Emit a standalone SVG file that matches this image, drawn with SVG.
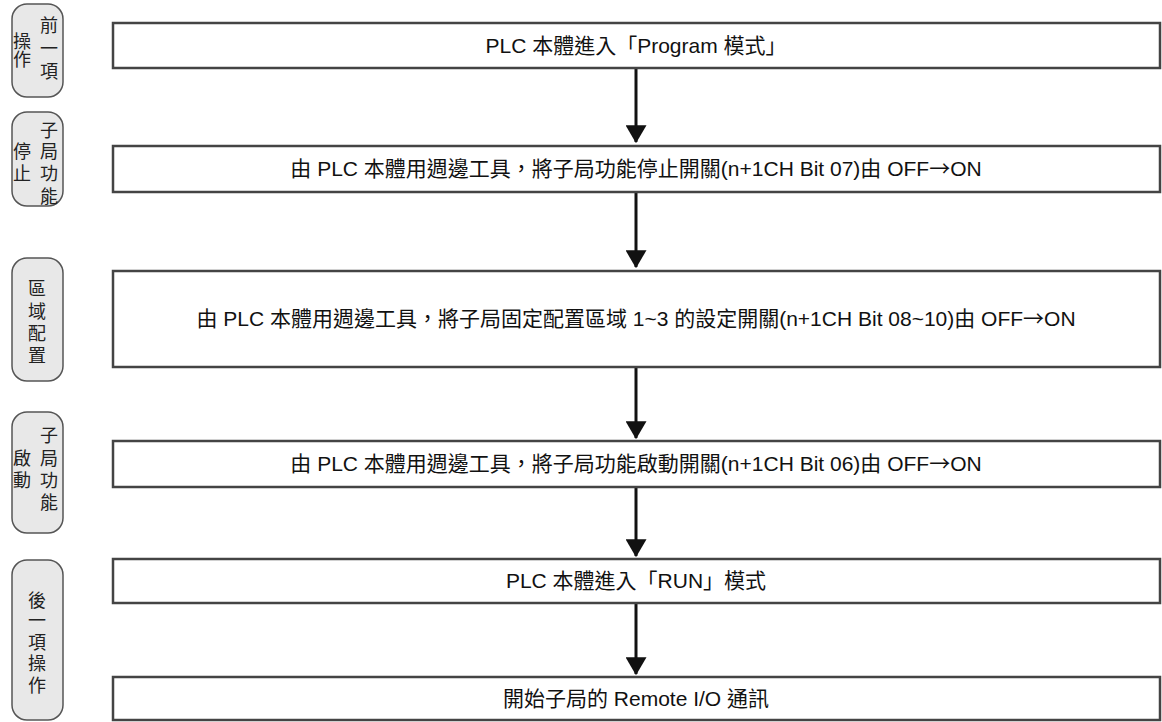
<svg xmlns="http://www.w3.org/2000/svg" width="1162" height="722" viewBox="0 0 1162 722">
<defs>
<style>
.box{fill:#fff;stroke:#444;stroke-width:2.5}
.tab{fill:#e8e8e8;stroke:#555;stroke-width:1.5}
.t{font-family:"Liberation Sans","Noto Sans CJK TC",sans-serif;font-size:21px;fill:#111;text-anchor:middle}
.ar{font-family:"Noto Sans CJK TC",sans-serif}
.v{font-family:"Noto Sans CJK TC",sans-serif;font-size:18px;fill:#222;text-anchor:middle}
.ln{stroke:#111;stroke-width:3;fill:none}
</style>
<marker id="ah" markerWidth="6" markerHeight="7" refX="5.6" refY="3.5" orient="auto" markerUnits="strokeWidth" viewBox="0 0 6 7">
<path d="M0,0 L6,3.5 L0,7 Z" fill="#111"/>
</marker>
</defs>
<rect width="1162" height="722" fill="#fff"/>
<g id="tab1"><rect class="tab" x="12" y="4" width="51" height="93" rx="15"/>
<text class="v" x="49" y="32">前<tspan x="49" dy="23">一</tspan><tspan x="49" dy="23">項</tspan></text>
<text class="v" x="22" y="48">操<tspan x="22" dy="18">作</tspan></text></g>
<g id="tab2"><rect class="tab" x="12" y="112" width="51" height="94" rx="15"/>
<text class="v" x="49" y="137">子<tspan x="49" dy="21">局</tspan><tspan x="49" dy="22">功</tspan><tspan x="49" dy="23">能</tspan></text>
<text class="v" x="22" y="158">停<tspan x="22" dy="22">止</tspan></text></g>
<g id="tab3"><rect class="tab" x="12" y="258" width="51" height="123" rx="15"/>
<text class="v" x="37" y="295">區<tspan x="37" dy="23">域</tspan><tspan x="37" dy="22">配</tspan><tspan x="37" dy="22">置</tspan></text></g>
<g id="tab4"><rect class="tab" x="12" y="412" width="51" height="121" rx="15"/>
<text class="v" x="49" y="442">子<tspan x="49" dy="23">局</tspan><tspan x="49" dy="22">功</tspan><tspan x="49" dy="22">能</tspan></text>
<text class="v" x="22" y="465">啟<tspan x="22" dy="22">動</tspan></text></g>
<g id="tab5"><rect class="tab" x="12" y="560" width="51" height="160" rx="15"/>
<text class="v" x="37" y="607">後<tspan x="37" dy="20">一</tspan><tspan x="37" dy="22">項</tspan><tspan x="37" dy="21">操</tspan><tspan x="37" dy="22">作</tspan></text></g>
<g id="connectors">
<line class="ln" x1="636" y1="68" x2="636" y2="142" marker-end="url(#ah)"/>
<line class="ln" x1="636" y1="192" x2="636" y2="267" marker-end="url(#ah)"/>
<line class="ln" x1="636" y1="367" x2="636" y2="438" marker-end="url(#ah)"/>
<line class="ln" x1="636" y1="487" x2="636" y2="556" marker-end="url(#ah)"/>
<line class="ln" x1="636" y1="603" x2="636" y2="674" marker-end="url(#ah)"/>
</g>
<g id="n1"><rect class="box" x="113" y="23" width="1047" height="45"/><text class="t" x="636" y="53">PLC 本體進入「Program 模式」</text></g>
<g id="n2"><rect class="box" x="113" y="146" width="1047" height="46"/><text class="t" x="636" y="176">由 PLC 本體用週邊工具，將子局功能停止開關(n+1CH Bit 07)由 OFF<tspan class="ar">→</tspan>ON</text></g>
<g id="n3"><rect class="box" x="113" y="271" width="1047" height="96"/><text class="t" x="636" y="326">由 PLC 本體用週邊工具，將子局固定配置區域 1~3 的設定開關(n+1CH Bit 08~10)由 OFF<tspan class="ar">→</tspan>ON</text></g>
<g id="n4"><rect class="box" x="113" y="441" width="1047" height="46"/><text class="t" x="636" y="471">由 PLC 本體用週邊工具，將子局功能啟動開關(n+1CH Bit 06)由 OFF<tspan class="ar">→</tspan>ON</text></g>
<g id="n5"><rect class="box" x="113" y="559" width="1047" height="44"/><text class="t" x="636" y="588">PLC 本體進入「RUN」模式</text></g>
<g id="n6"><rect class="box" x="113" y="677" width="1047" height="43"/><text class="t" x="636" y="706">開始子局的 Remote I/O 通訊</text></g>
</svg>
